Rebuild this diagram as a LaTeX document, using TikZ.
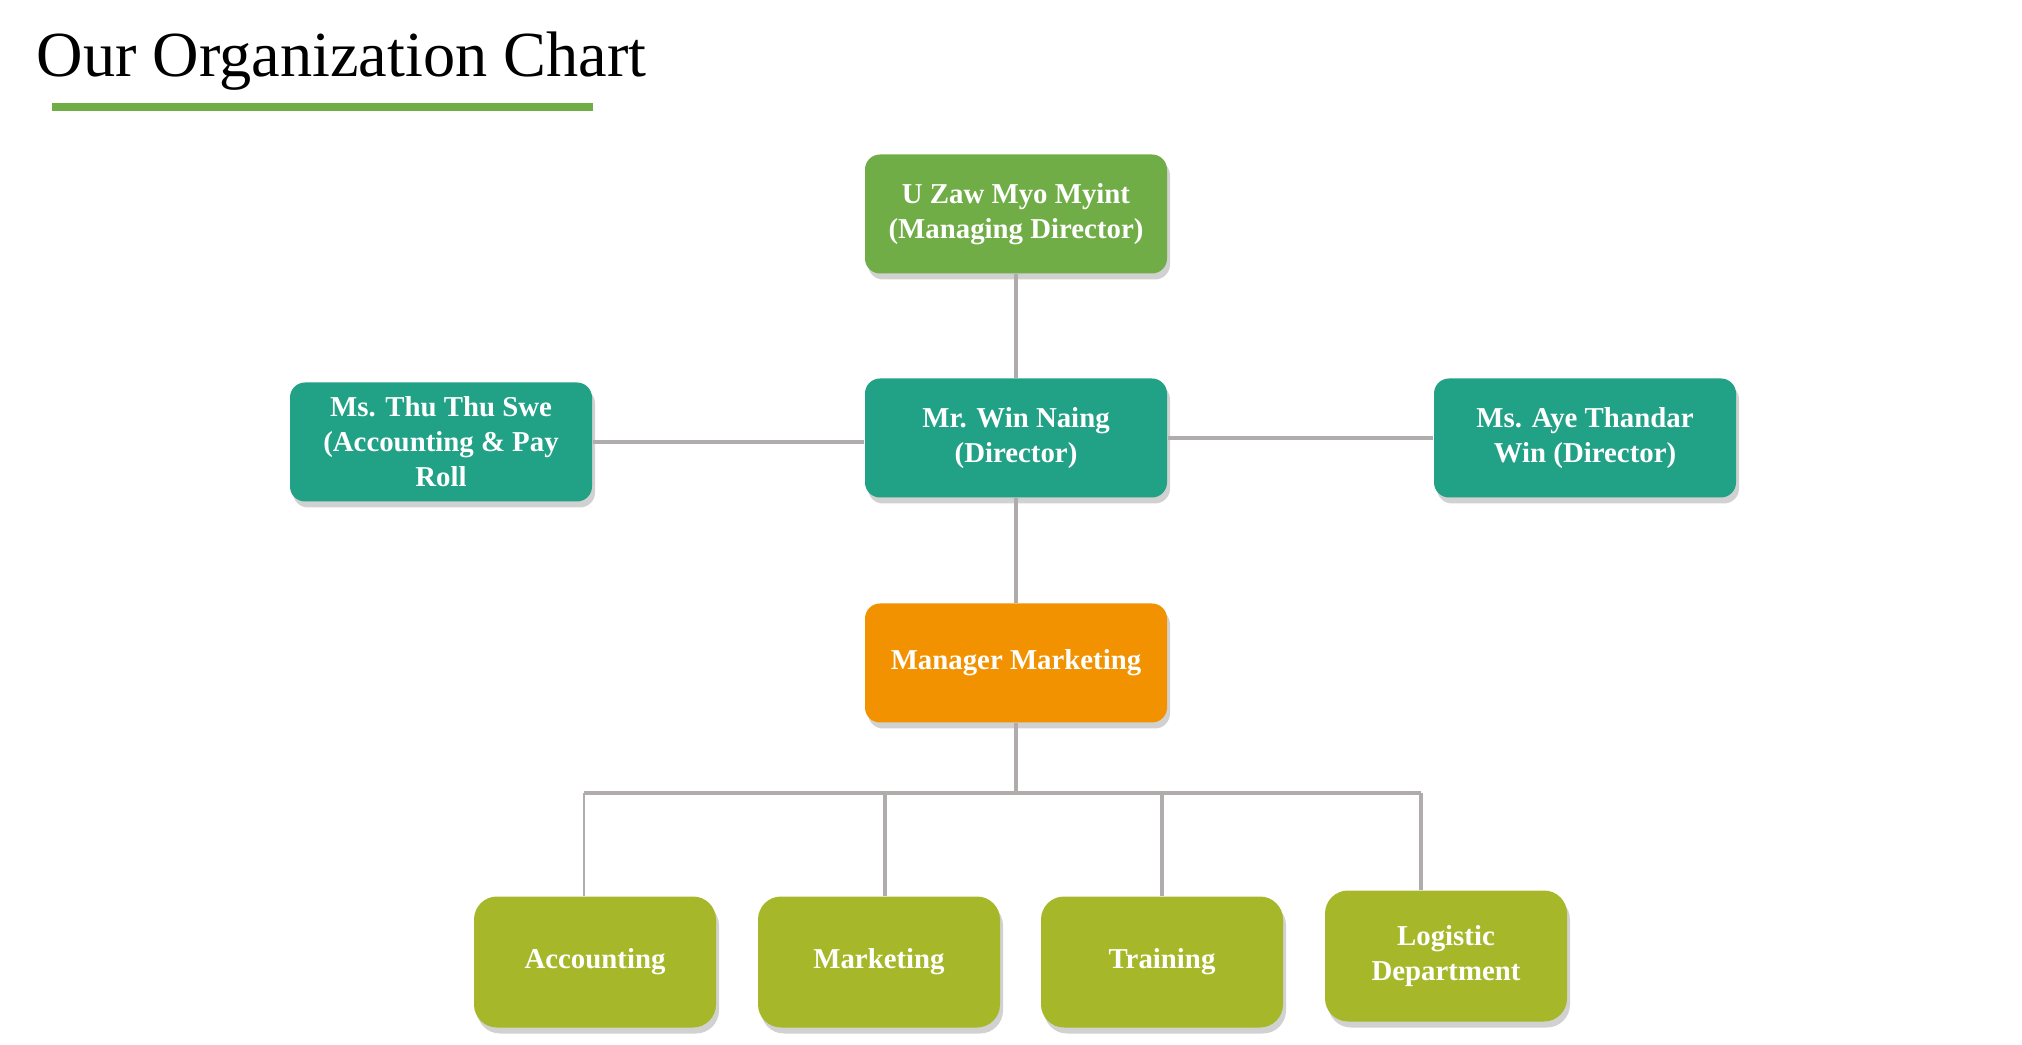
\documentclass[tikz,border=0pt]{standalone}
\usepackage{fontspec}
\setmainfont{Liberation Serif}
\usetikzlibrary{shadows}

\definecolor{topgreen}{HTML}{70AD47}
\definecolor{dirteal}{HTML}{21A185}
\definecolor{mgrorange}{HTML}{F39200}
\definecolor{deptolive}{HTML}{A6B82A}
\definecolor{linkgray}{HTML}{B0ACAC}

\tikzset{
  box/.style={rounded corners=1.5mm, minimum width=30.2mm, minimum height=11.9mm,
    align=center, text=white, font=\bfseries\fontsize{8.2}{10}\selectfont,
    drop shadow={shadow xshift=0.3mm, shadow yshift=-0.6mm, opacity=0.3, fill=black!60}},
  deptbox/.style={box, rounded corners=2.3mm, minimum width=24.2mm, minimum height=13.1mm, fill=deptolive},
  link/.style={draw=linkgray, line width=1.1pt}
}

\begin{document}
\begin{tikzpicture}[x=0.1mm,y=-0.1mm]
		\useasboundingbox (0,0) rectangle (2022,1045);

		% title
		\node[anchor=base west,inner sep=0pt,font=\fontsize{18.3}{22}\selectfont] (title) at (36,77) {Our Organization Chart};
		\fill[topgreen] (52,103) rectangle (593,111);

		% people
		\node[box,fill=topgreen] (md) at (1016,214) {U Zaw Myo Myint\\(Managing Director)};
		\node[box,fill=dirteal] (dir) at (1016,438) {Mr. Win Naing\\(Director)};
		\node[box,fill=dirteal] (acct) at (441,442) {Ms. Thu Thu Swe\\(Accounting \& Pay\\Roll};
		\node[box,fill=dirteal] (dir2) at (1585,438) {Ms. Aye Thandar\\Win (Director)};
		\node[box,fill=mgrorange] (mgr) at (1016,663) {Manager Marketing};

		% departments
		\node[deptbox] (d1) at (595,962) {Accounting};
		\node[deptbox] (d2) at (879,962) {Marketing};
		\node[deptbox] (d3) at (1162,962) {Training};
		\node[deptbox] (d4) at (1446,956) {Logistic\\Department};

		\coordinate (bus) at (1016,793);
		\coordinate (t1) at (584,793);
		\coordinate (t2) at (885,793);
		\coordinate (t3) at (1162,793);
		\coordinate (t4) at (1421,793);

		\draw[link] (md) -- (dir);
		\draw[link] (acct.east) -- (acct.east -| dir.west);
		\draw[link] (dir) -- (dir2);
		\draw[link] (dir) -- (mgr);
		\draw[link] (mgr) -- (bus);
		\draw[link] (t1) -- (t4);
		\draw[draw=linkgray,line width=0.3pt] (t1) -- (t1 |- d1.north);
		\draw[link] (t2) -- (t2 |- d2.north);
		\draw[link] (t3) -- (t3 |- d3.north);
		\draw[link] (t4) -- (t4 |- d4.north);

	\end{tikzpicture}
\end{document}
